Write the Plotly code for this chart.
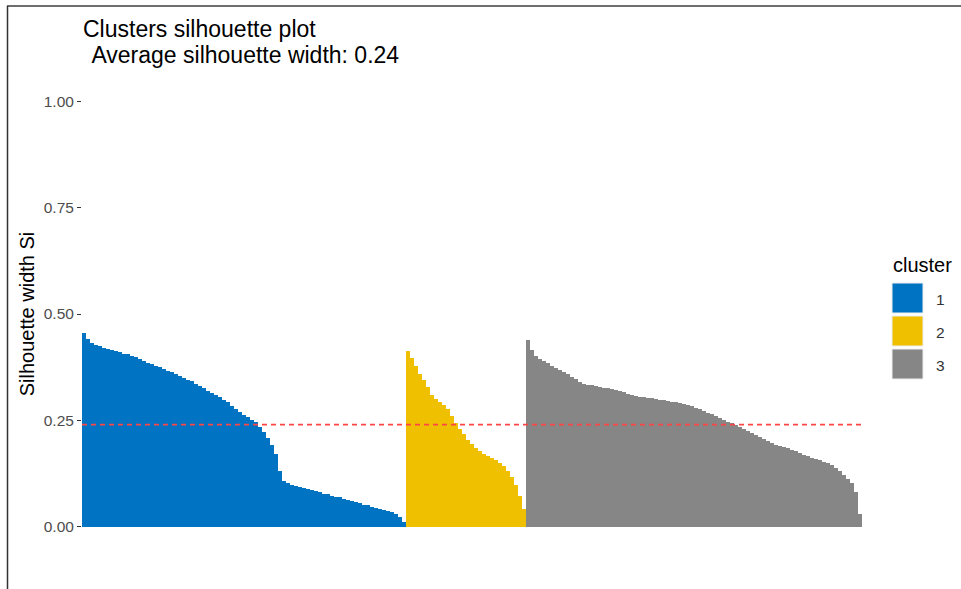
import plotly.graph_objects as go

# ---------------- data (silhouette widths, sorted within cluster) ----------------
cluster_labels = ["1", "2", "3"]
cluster_colors = ["#0073C2", "#EFC000", "#868686"]

sil_cluster1 = [
    0.455, 0.442, 0.433, 0.428, 0.424, 0.420, 0.418, 0.416, 0.413, 0.410,
    0.407, 0.405, 0.402, 0.398, 0.394, 0.390, 0.386, 0.382, 0.378, 0.375,
    0.371, 0.367, 0.363, 0.359, 0.355, 0.350, 0.346, 0.342, 0.336, 0.331,
    0.326, 0.320, 0.315, 0.310, 0.304, 0.298, 0.292, 0.284, 0.277, 0.269,
    0.262, 0.257, 0.251, 0.245, 0.235, 0.222, 0.208, 0.192, 0.172, 0.130,
    0.107, 0.102, 0.099, 0.096, 0.093, 0.091, 0.089, 0.086, 0.083, 0.081,
    0.078, 0.076, 0.073, 0.071, 0.069, 0.066, 0.063, 0.060, 0.057, 0.055,
    0.052, 0.050, 0.047, 0.045, 0.042, 0.040, 0.037, 0.034, 0.030, 0.024,
    0.012,
]
sil_cluster2 = [
    0.412, 0.396, 0.378, 0.360, 0.346, 0.328, 0.310, 0.300, 0.292, 0.285,
    0.276, 0.260, 0.243, 0.230, 0.217, 0.205, 0.194, 0.184, 0.177, 0.172,
    0.167, 0.162, 0.157, 0.150, 0.142, 0.130, 0.116, 0.098, 0.072, 0.042,
]
sil_cluster3 = [
    0.440, 0.415, 0.402, 0.395, 0.389, 0.384, 0.378, 0.373, 0.368, 0.363,
    0.358, 0.353, 0.347, 0.340, 0.336, 0.334, 0.332, 0.330, 0.328, 0.327,
    0.325, 0.323, 0.321, 0.318, 0.316, 0.313, 0.310, 0.308, 0.306, 0.305,
    0.303, 0.302, 0.300, 0.299, 0.297, 0.296, 0.294, 0.292, 0.290, 0.288,
    0.285, 0.283, 0.280, 0.277, 0.273, 0.268, 0.264, 0.260, 0.256, 0.252,
    0.247, 0.243, 0.238, 0.234, 0.229, 0.225, 0.220, 0.216, 0.211, 0.206,
    0.201, 0.196, 0.193, 0.190, 0.187, 0.184, 0.181, 0.177, 0.173, 0.169,
    0.166, 0.162, 0.159, 0.156, 0.153, 0.150, 0.145, 0.139, 0.131, 0.122,
    0.113, 0.103, 0.082, 0.030,
]
avg_sil_width = 0.24

y_tick_vals = [0.0, 0.25, 0.5, 0.75, 1.0]
y_tick_text = ["0.00", "0.25", "0.50", "0.75", "1.00"]

title_line1 = "Clusters silhouette plot"
title_line2 = "\u00a0Average silhouette width: 0.24"
y_title = "Silhouette width Si"
legend_title = "cluster"

# ---------------- layout geometry (pixels) ----------------
W, H = 961, 589
PL, PR, PT, PB = 82, 862, 80, 548   # panel edges


def px_x(px):
    return (px - PL) / (PR - PL)


def px_y(py):
    return (PB - py) / (PB - PT)


fig = go.Figure()

series = [sil_cluster1, sil_cluster2, sil_cluster3]
start = 1
for lab, col, vals in zip(cluster_labels, cluster_colors, series):
    xs = list(range(start, start + len(vals)))
    start += len(vals)
    fig.add_trace(go.Bar(
        x=xs, y=vals, name=lab, width=1.08,
        marker=dict(color=col, line=dict(width=0)),
        showlegend=False, hoverinfo="x+y",
    ))
n_total = start - 1

# average silhouette line
fig.add_shape(type="line", xref="paper", yref="y", x0=0, x1=1,
              y0=avg_sil_width, y1=avg_sil_width,
              line=dict(color="#ff4545", width=1.6, dash="5px,4px"))

# outer frame (top and left edges of the screenshot)
fig.add_shape(type="line", xref="paper", yref="paper",
              x0=px_x(7), x1=px_x(961), y0=px_y(6), y1=px_y(6),
              line=dict(color="#6e6e6e", width=2))
fig.add_shape(type="line", xref="paper", yref="paper",
              x0=px_x(7.5), x1=px_x(7.5), y0=px_y(6), y1=px_y(590),
              line=dict(color="#333333", width=1.5))

# custom legend
key_tops = [283, 316, 349]
for lab, col, top in zip(cluster_labels, cluster_colors, key_tops):
    fig.add_shape(type="rect", xref="paper", yref="paper",
                  x0=px_x(892), x1=px_x(923), y0=px_y(top), y1=px_y(top + 30),
                  fillcolor=col, line=dict(color="#eeeeee", width=1))
    fig.add_annotation(xref="paper", yref="paper", x=px_x(934), y=px_y(top + 16.5),
                       xanchor="left", yanchor="middle", showarrow=False,
                       text=lab, font=dict(size=15.5, color="#333333",
                                           family="Liberation Sans, Arial"))
fig.add_annotation(xref="paper", yref="paper", x=px_x(891), y=px_y(265),
                   xanchor="left", yanchor="middle", showarrow=False,
                   text=legend_title,
                   font=dict(size=20, color="#000000", family="Liberation Sans, Arial"))

# title lines
fig.add_annotation(xref="paper", yref="paper", x=px_x(83), y=px_y(55),
                   xanchor="left", yanchor="middle", showarrow=False,
                   text=title_line2,
                   font=dict(size=23, color="#000000", family="Liberation Sans, Arial"))

fig.update_layout(
    width=W, height=H,
    margin=dict(l=PL, r=W - PR, t=PT, b=H - PB, pad=0),
    paper_bgcolor="white", plot_bgcolor="white",
    bargap=0, barmode="overlay",
    title=dict(text=title_line1, x=83 / W,
               xanchor="left", xref="container", yref="container",
               y=1 - 29 / H, yanchor="middle",
               font=dict(size=23, color="#000000", family="Liberation Sans, Arial")),
    font=dict(family="Liberation Sans, Arial"),
    showlegend=False,
)
fig.update_xaxes(range=[0.5, n_total + 0.5], showticklabels=False, ticks="",
                 showgrid=False, zeroline=False, showline=False)
fig.update_yaxes(range=[-0.05, 1.05], tickvals=y_tick_vals, ticktext=y_tick_text,
                 ticks="outside", ticklen=4, tickwidth=1, tickcolor="#333333",
                 tickfont=dict(size=15.5, color="#4D4D4D"),
                 showgrid=False, zeroline=False, showline=False,
                 title=dict(text=y_title, standoff=3,
                            font=dict(size=20, color="#000000")))

fig.write_html(
    "out.html",
    config={"displayModeBar": False},
    post_script="document.body.style.margin='0';document.body.style.overflow='hidden';",
)
